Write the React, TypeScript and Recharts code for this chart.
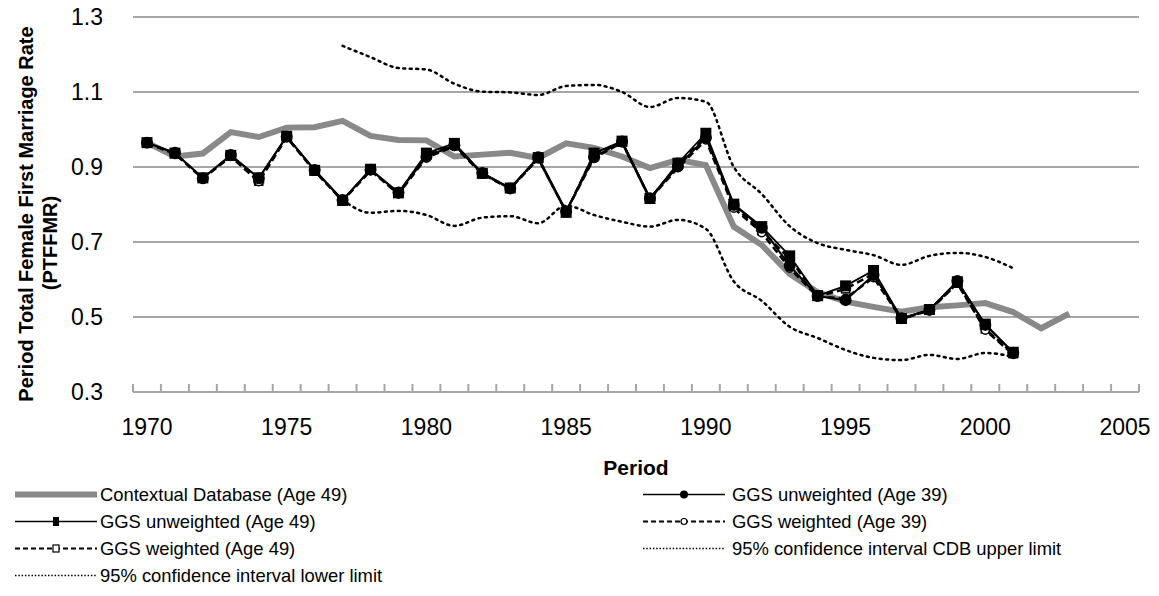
import React from 'react';
import { LineChart, Line, XAxis, YAxis, CartesianGrid, Legend } from 'recharts';

// ---- categories ----
const years: number[] = [
  1970, 1971, 1972, 1973, 1974, 1975, 1976, 1977, 1978, 1979,
  1980, 1981, 1982, 1983, 1984, 1985, 1986, 1987, 1988, 1989,
  1990, 1991, 1992, 1993, 1994, 1995, 1996, 1997, 1998, 1999,
  2000, 2001, 2002, 2003, 2004, 2005,
];
const xTickYears: number[] = [1970, 1975, 1980, 1985, 1990, 1995, 2000, 2005];
const yTicks: number[] = [0.3, 0.5, 0.7, 0.9, 1.1, 1.3];

// ---- series (starting 1970) ----
const contextualDb: number[] = [
  0.965, 0.928, 0.936, 0.993, 0.98, 1.005, 1.006, 1.023, 0.983, 0.972,
  0.971, 0.928, 0.933, 0.938, 0.924, 0.963, 0.951, 0.928, 0.897, 0.919,
  0.905, 0.741, 0.692, 0.615, 0.566, 0.541, 0.527, 0.514, 0.526, 0.531,
  0.537, 0.513, 0.47, 0.509,
];
const ggsUnweighted39: number[] = [
  0.965, 0.938, 0.87, 0.932, 0.87, 0.981, 0.892, 0.812, 0.893, 0.832,
  0.927, 0.958, 0.884, 0.843, 0.926, 0.782, 0.926, 0.968, 0.817, 0.902,
  0.978, 0.799, 0.738, 0.637, 0.556, 0.545, 0.612, 0.497, 0.519, 0.596,
  0.479, 0.405,
];
const ggsUnweighted49: number[] = [
  0.965, 0.937, 0.871, 0.931, 0.871, 0.982, 0.891, 0.811, 0.894, 0.831,
  0.937, 0.963, 0.883, 0.844, 0.925, 0.779, 0.937, 0.969, 0.816, 0.91,
  0.99, 0.801, 0.741, 0.663, 0.557, 0.583, 0.624, 0.496, 0.52, 0.594,
  0.481, 0.406,
];
const ggsWeighted39: number[] = [
  0.964, 0.935, 0.869, 0.928, 0.861, 0.979, 0.889, 0.81, 0.89, 0.828,
  0.925, 0.955, 0.881, 0.842, 0.922, 0.781, 0.924, 0.965, 0.815, 0.898,
  0.972, 0.79, 0.725, 0.63, 0.554, 0.55, 0.605, 0.495, 0.517, 0.59,
  0.465, 0.4,
];
const ggsWeighted49: number[] = [
  0.964, 0.936, 0.87, 0.929, 0.862, 0.98, 0.89, 0.81, 0.892, 0.83,
  0.933, 0.96, 0.882, 0.843, 0.923, 0.78, 0.934, 0.966, 0.815, 0.906,
  0.982, 0.795, 0.73, 0.655, 0.555, 0.575, 0.615, 0.495, 0.518, 0.59,
  0.468, 0.402,
];

// ---- confidence intervals (starting 1977) ----
const ciStartYear = 1977;
const ciUpper: number[] = [
  1.223, 1.193, 1.164, 1.16, 1.122, 1.101, 1.099, 1.092, 1.116, 1.119,
  1.1, 1.06, 1.084, 1.074, 0.9, 0.828, 0.742, 0.697, 0.679, 0.665,
  0.639, 0.663, 0.671, 0.66, 0.63,
];
const ciLower: number[] = [
  0.812, 0.778, 0.783, 0.772, 0.743, 0.765, 0.769, 0.75, 0.797, 0.772,
  0.754, 0.741, 0.759, 0.735, 0.595, 0.543, 0.474, 0.444, 0.412, 0.391,
  0.385, 0.399, 0.388, 0.404, 0.394,
];

const at = (arr: number[], i: number) => (i >= 0 && i < arr.length ? arr[i] : null);

const data = years.map((year, i) => ({
  year,
  cdb: at(contextualDb, i),
  u39: at(ggsUnweighted39, i),
  u49: at(ggsUnweighted49, i),
  w39: at(ggsWeighted39, i),
  w49: at(ggsWeighted49, i),
  ciU: at(ciUpper, year - ciStartYear),
  ciL: at(ciLower, year - ciStartYear),
}));

// category boundaries (tick marks) + labelled years
const boundaries = [...years.map((y) => y - 0.5), years[years.length - 1] + 0.5];
const allXTicks = [...boundaries, ...xTickYears].sort((a, b) => a - b);

const FONT = "'Liberation Sans', Arial, sans-serif";
const GRID = '#a6a6a6';
const GREY = '#898989';
const TICK_SIZE = 6;
const TICK_MARGIN = 21;

const circleDot = (r: number, fill: string, sw: number) => (props: any) => {
  const { cx, cy, index, value } = props;
  if (cx == null || cy == null || value == null) return <g key={`c${index}`} />;
  return <circle key={`c${index}`} cx={cx} cy={cy} r={r} fill={fill} stroke="#000" strokeWidth={sw} />;
};
const squareDot = (s: number, fill: string, sw: number) => (props: any) => {
  const { cx, cy, index, value } = props;
  if (cx == null || cy == null || value == null) return <g key={`s${index}`} />;
  return <rect key={`s${index}`} x={cx - s / 2} y={cy - s / 2} width={s} height={s} fill={fill} stroke="#000" strokeWidth={sw} />;
};

type LegendItem = { name: string; kind: string };
const legendItems: LegendItem[] = [
  { name: 'Contextual Database (Age 49)', kind: 'grey' },
  { name: 'GGS unweighted (Age 39)', kind: 'u39' },
  { name: 'GGS unweighted (Age 49)', kind: 'u49' },
  { name: 'GGS weighted (Age 39)', kind: 'w39' },
  { name: 'GGS weighted (Age 49)', kind: 'w49' },
  { name: '95% confidence interval CDB upper limit', kind: 'dot' },
  { name: '95% confidence interval lower limit', kind: 'dot' },
];

const LegendIcon = ({ kind }: { kind: string }) => {
  const w = 82, h = 27, m = 13.5;
  let content: React.ReactNode = null;
  if (kind === 'grey') content = <line x1={1} x2={w - 1} y1={m} y2={m} stroke={GREY} strokeWidth={6} strokeLinecap="round" />;
  if (kind === 'u39') content = (<g><line x1={0} x2={w} y1={m} y2={m} stroke="#000" strokeWidth={1.5} /><circle cx={w / 2} cy={m} r={4} fill="#000" /></g>);
  if (kind === 'u49') content = (<g><line x1={0} x2={w} y1={m} y2={m} stroke="#000" strokeWidth={1.5} /><rect x={w / 2 - 3} y={m - 4.5} width={6} height={9} fill="#000" /></g>);
  if (kind === 'w39') content = (<g><line x1={0} x2={w} y1={m} y2={m} stroke="#000" strokeWidth={2} strokeDasharray="5 3" /><circle cx={w / 2} cy={m} r={3} fill="#fff" stroke="#000" strokeWidth={1.2} /></g>);
  if (kind === 'w49') content = (<g><line x1={0} x2={w} y1={m} y2={m} stroke="#000" strokeWidth={2} strokeDasharray="5 3" /><rect x={w / 2 - 3} y={m - 3.5} width={6} height={7} fill="#fff" stroke="#000" strokeWidth={1.2} /></g>);
  if (kind === 'dot') content = <line x1={0} x2={w} y1={m} y2={m} stroke="#000" strokeWidth={1.5} strokeDasharray="1.5 1.8" />;
  return <svg width={w} height={h} style={{ display: 'block' }}>{content}</svg>;
};

const renderLegend = () => (
  <div style={{ position: 'relative', width: 1159, height: 112, fontFamily: FONT, fontSize: 18.4, color: '#000' }}>
    {legendItems.map((it, i) => {
      const col = i % 2;
      const row = Math.floor(i / 2);
      return (
        <div key={it.name} style={{ position: 'absolute', left: col === 0 ? 15 : 643, top: row * 27, display: 'flex', alignItems: 'center', whiteSpace: 'nowrap', height: 27 }}>
          <LegendIcon kind={it.kind} />
          <span style={{ marginLeft: col === 0 ? 3 : 7 }}>{it.name}</span>
        </div>
      );
    })}
  </div>
);

const YTitle = () => (
  <g fontFamily={FONT} fontWeight="bold" fontSize={20} fill="#000">
    <text x={33} y={214} textAnchor="middle" transform="rotate(-90, 33, 214)">Period Total Female First Marriage Rate</text>
    <text x={57} y={243} textAnchor="middle" transform="rotate(-90, 57, 243)">(PTFFMR)</text>
  </g>
);

const XTitle = (props: any) => {
  const vb = props.viewBox || {};
  const cx = (vb.x ?? 133) + (vb.width ?? 1006) / 2;
  return (
    <text x={cx} y={475} textAnchor="middle" fontFamily={FONT} fontWeight="bold" fontSize={21} fill="#000">Period</text>
  );
};

// x tick: category boundaries get a small upward mark, labelled years get text
const XTick = (props: any) => {
  const { x, y, payload, index } = props;
  const v = payload?.value;
  if (!Number.isInteger(v)) {
    const axisY = y - TICK_SIZE - TICK_MARGIN;
    return <line key={`xt${index}`} x1={x} x2={x} y1={axisY} y2={axisY - 8} stroke={GRID} strokeWidth={2} />;
  }
  return (
    <text key={`xt${index}`} x={x} y={y} dy="0.71em" textAnchor="middle" fill="#000" fontSize={23} fontFamily={FONT}>{v}</text>
  );
};

export default function App() {
  return (
    <div style={{ position: 'absolute', left: 0, top: 0, width: 1159, height: 596, background: '#fff' }}>
      <LineChart width={1159} height={596} data={data} margin={{ top: 17, right: 20, left: 0, bottom: 0 }}>
        <CartesianGrid vertical={false} stroke={GRID} strokeWidth={2} />
        <XAxis
          dataKey="year"
          type="number"
          domain={[1969.5, 2005.5]}
          ticks={allXTicks}
          interval={0}
          height={204}
          tickLine={false}
          tickSize={TICK_SIZE}
          axisLine={{ stroke: GRID, strokeWidth: 2 }}
          tickMargin={TICK_MARGIN}
          tick={<XTick />}
          label={(p: any) => <XTitle {...p} />}
        />
        <YAxis
          type="number"
          domain={[0.3, 1.3]}
          ticks={yTicks}
          interval={0}
          width={133}
          axisLine={false}
          tickLine={false}
          tickMargin={24}
          tickFormatter={(v: number) => v.toFixed(1)}
          tick={{ fill: '#000', fontSize: 23, fontFamily: FONT }}
          label={() => <YTitle />}
        />
        <Legend layout="vertical" align="center" verticalAlign="middle" wrapperStyle={{ left: 0, top: 481, width: 1159 }} content={renderLegend} />
        <Line type="monotone" dataKey="ciU" stroke="#000" strokeWidth={2.5} strokeDasharray="2 4.5" strokeLinecap="round" dot={false} isAnimationActive={false} />
        <Line type="monotone" dataKey="ciL" stroke="#000" strokeWidth={2.5} strokeDasharray="2 4.5" strokeLinecap="round" dot={false} isAnimationActive={false} />
        <Line type="linear" dataKey="cdb" stroke={GREY} strokeWidth={6} dot={false} isAnimationActive={false} />
        <Line type="linear" dataKey="w49" stroke="#000" strokeWidth={2.5} strokeDasharray="7 4" dot={squareDot(8, '#fff', 1.5)} isAnimationActive={false} />
        <Line type="linear" dataKey="w39" stroke="#000" strokeWidth={2.5} strokeDasharray="7 4" dot={circleDot(4, '#fff', 1.5)} isAnimationActive={false} />
        <Line type="linear" dataKey="u49" stroke="#000" strokeWidth={1.75} dot={squareDot(11, '#000', 0)} isAnimationActive={false} />
        <Line type="linear" dataKey="u39" stroke="#000" strokeWidth={2} dot={circleDot(6, '#000', 0)} isAnimationActive={false} />
      </LineChart>
    </div>
  );
}
